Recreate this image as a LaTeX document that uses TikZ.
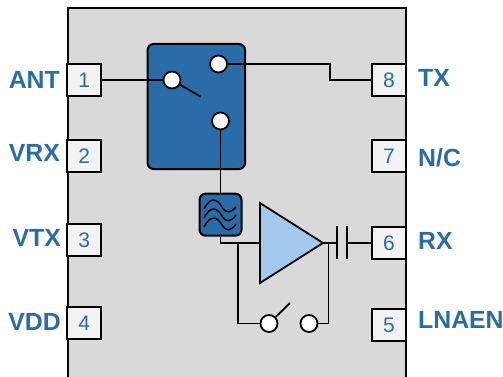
\documentclass[tikz,border=0pt]{standalone}
\usepackage{fontspec}
\setmainfont{Liberation Sans}
\definecolor{bluea}{HTML}{2A6CA8}
\definecolor{lighta}{HTML}{A2C9EB}
\definecolor{greya}{HTML}{D9D9D9}
\definecolor{pina}{HTML}{F2F2F2}
\tikzset{
 wire/.style={draw=black,line width=1.8pt},
 pinbox/.style={draw=black,line width=2pt,fill=pina,minimum width=34pt,minimum height=32.5pt,inner sep=0pt,text=bluea,font=\fontsize{21}{21}\selectfont},
 lab/.style={text=bluea,font=\fontsize{24.8}{25}\selectfont\bfseries,inner sep=0pt},
 contact/.style={circle,draw=black,line width=1.8pt,fill=white,minimum size=17pt,inner sep=0pt},
 blockb/.style={draw=black,line width=2pt,fill=bluea,rounded corners=6pt,inner sep=0pt},
}
\begin{document}
\begin{tikzpicture}[x=1pt,y=-1pt]
\useasboundingbox (0,0) rectangle (503,377);
\fill[white] (0,0) rectangle (503,377);
\fill[greya] (67.5,8) rectangle (406,377);
\draw[line width=2pt] (67.5,377) -- (67.5,8) -- (406,8) -- (406,377);
% pins
\node[pinbox] (p1) at (84.3,80) {1};
\node[pinbox] (p2) at (84.3,156) {2};
\node[pinbox] (p3) at (84.3,240) {3};
\node[pinbox] (p4) at (84.3,323) {4};
\node[pinbox] (p8) at (389,80) {8};
\node[pinbox] (p7) at (389,156) {7};
\node[pinbox] (p6) at (389,243) {6};
\node[pinbox] (p5) at (389,325) {5};
% labels
\node[lab,anchor=east] (lant) at (60,79.5) {ANT};
\node[lab,anchor=east] (lvrx) at (60,152.5) {VRX};
\node[lab,anchor=east] (lvtx) at (61,237.5) {VTX};
\node[lab,anchor=east] (lvdd) at (61,322) {VDD};
\node[lab,anchor=west] (ltx) at (418,77.5) {TX};
\node[lab,anchor=west] (lnc) at (418,157.5) {N/C};
\node[lab,anchor=west] (lrx) at (418,241) {RX};
\node[lab,anchor=west] (lln) at (418,320) {LNAEN};
% switch block
\node[blockb,minimum width=97.5pt,minimum height=125pt] (sw) at (196.3,106.5) {};
\node[contact] (c1) at (172,80) {};
\node[contact] (c2) at (218.5,64) {};
\node[contact] (c3) at (220.5,121) {};
\coordinate (wipe) at (200.7,96.7);
\draw[wire] (c1) -- (wipe);
% filter
\node[blockb,minimum width=42pt,minimum height=42pt] (flt) at (220.5,214.7) {};
\draw[line width=1.5pt,black]
 (204,209) .. controls (210,197) and (217,198) .. (222,207) .. controls (226,214) and (231,213) .. (236,207)
 (204,218) .. controls (210,206) and (217,207) .. (222,216) .. controls (226,223) and (231,222) .. (236,215)
 (204,227) .. controls (210,215) and (217,216) .. (222,225) .. controls (226,232) and (231,231) .. (236,224);
% amplifier
\coordinate (ain) at (260,243);
\coordinate (aout) at (323,243);
\draw[line width=1.8pt,fill=lighta,line join=miter] (260,203) -- (323,243) -- (260,283) -- cycle;
% capacitor
\coordinate (capa) at (337,243);
\coordinate (capb) at (347,243);
\draw[line width=2pt] (337,226) -- (337,259) (347,226) -- (347,259);
% bypass switch
\node[contact] (b1) at (269,323.5) {};
\node[contact] (b2) at (309,323.5) {};
\coordinate (bw) at (290,303);
\draw[wire] (b1) -- (bw);
% wires
\draw[wire] (p1.east) -- (c1.west);
\draw[wire] (c2.east) -- (330,64) -- (330,80) -- (p8.west);
\draw[wire] (c3.south) -- (flt.north);
\draw[wire] (flt.south) -- (220.5,243) -- (ain);
\draw[wire] (238,243) -- (238,323.5) -- (b1.west);
\draw[wire] (b2.east) -- (328.5,323.5) -- (328.5,243);
\draw[wire] (aout) -- (capa);
\draw[wire] (capb) -- (p6.west);
\end{tikzpicture}
\end{document}
